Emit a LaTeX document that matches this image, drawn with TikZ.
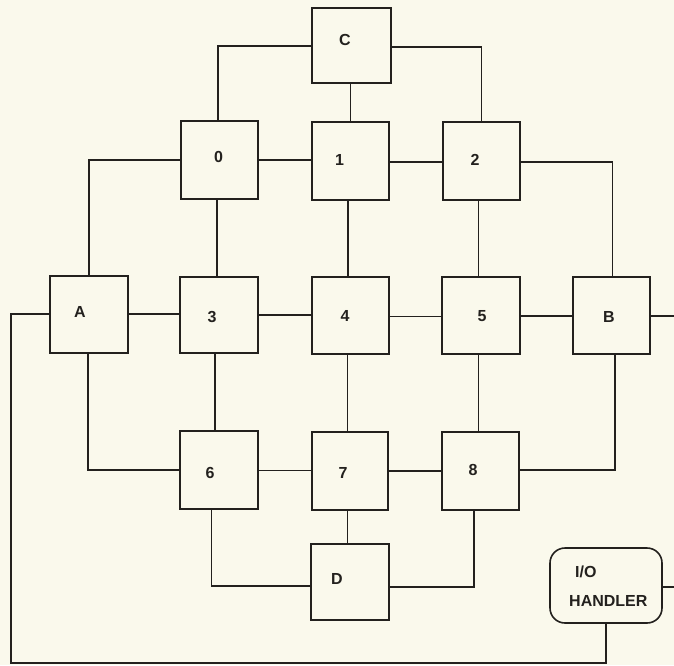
\documentclass[tikz,border=0pt]{standalone}
\usepackage{fontspec}
\setmainfont{Liberation Sans}
\definecolor{paper}{RGB}{250,249,236}
\definecolor{ink}{RGB}{35,33,30}
\begin{document}
\begin{tikzpicture}[x=1pt,y=-1pt,
  box/.style={draw=ink, line width=1.6pt, inner sep=0pt, minimum width=77pt, minimum height=77pt},
  wire/.style={draw=ink, line width=1.2pt},
  lab/.style={font=\bfseries\fontsize{16}{16}\selectfont, text=ink, inner sep=0pt}]
\fill[paper] (0,0) rectangle (674,665);
\useasboundingbox (0,0) rectangle (674,665);

% boxes
\node[box, minimum width=79pt, minimum height=75pt] (C) at (351.5,45.5) {};
\node[box, minimum height=78pt] (n0) at (219.5,160) {};
\node[box, minimum height=78pt] (n1) at (350.5,161) {};
\node[box, minimum height=78pt] (n2) at (481.5,161) {};
\node[box, minimum width=78pt] (A) at (89,314.5) {};
\node[box, minimum width=78pt, minimum height=76pt] (n3) at (219,315) {};
\node[box] (n4) at (350.5,315.5) {};
\node[box, minimum width=78pt] (n5) at (481,315.5) {};
\node[box] (B) at (611.5,315.5) {};
\node[box, minimum width=78pt, minimum height=78pt] (n6) at (219,470) {};
\node[box, minimum width=76pt, minimum height=78pt] (n7) at (350,471) {};
\node[box, minimum height=78pt] (n8) at (480.5,471) {};
\node[box, minimum width=78pt, minimum height=76pt] (D) at (350,582) {};
\node[box, rounded corners=15pt, minimum width=112pt, minimum height=75pt] (IO) at (606,585.5) {};

% labels
\node[lab] (lC) at (345,40) {C};
\node[lab] (l0) at (218.5,157) {0};
\node[lab] (l1) at (339.5,160) {1};
\node[lab] (l2) at (475,160) {2};
\node[lab] (lA) at (80,312) {A};
\node[lab] (l3) at (212,317) {3};
\node[lab] (l4) at (345,316) {4};
\node[lab] (l5) at (482,316) {5};
\node[lab] (lB) at (609,317) {B};
\node[lab] (l6) at (210,473) {6};
\node[lab] (l7) at (343,473) {7};
\node[lab] (l8) at (473,470) {8};
\node[lab] (lD) at (337,579) {D};
\node[lab, anchor=west] (lIO) at (575,572) {I/O};
\node[lab, anchor=west] (lH) at (569,601) {HANDLER};

% free ends
\coordinate (Bout) at (674,316);
\coordinate (IOout) at (674,587);
\coordinate (loopR) at (606,663);
\coordinate (loopL) at (11,663);
\coordinate (loopT) at (11,314);

% connectors
\draw[wire] (C.west |- 0,46) -| (n0.north -| 218,0);
\draw[wire] (C.east |- 0,47) -| (n2.north -| 481.5,0);
\draw[wire] (C.south -| 350.5,0) -- (n1.north -| 350.5,0);
\draw[wire] (n0.west |- 0,160) -| (A.north -| 89,0);
\draw[wire] (n0.east |- 0,160) -- (n1.west |- 0,160);
\draw[wire] (n1.east |- 0,162) -- (n2.west |- 0,162);
\draw[wire] (n2.east |- 0,162) -| (B.north -| 612.5,0);
\draw[wire] (n0.south -| 217,0) -- (n3.north -| 217,0);
\draw[wire] (n1.south -| 348,0) -- (n4.north -| 348,0);
\draw[wire] (n2.south -| 478.5,0) -- (n5.north -| 478.5,0);
\draw[wire] (A.east |- 0,314) -- (n3.west |- 0,314);
\draw[wire] (n3.east |- 0,315) -- (n4.west |- 0,315);
\draw[wire] (n4.east |- 0,316.5) -- (n5.west |- 0,316.5);
\draw[wire] (n5.east |- 0,316) -- (B.west |- 0,316);
\draw[wire] (B.east |- 0,316) -- (Bout);
\draw[wire] (A.south -| 88,0) |- (n6.west |- 0,470);
\draw[wire] (n3.south -| 215,0) -- (n6.north -| 215,0);
\draw[wire] (n4.south -| 347.5,0) -- (n7.north -| 347.5,0);
\draw[wire] (n5.south -| 478.5,0) -- (n8.north -| 478.5,0);
\draw[wire] (B.south -| 615,0) |- (n8.east |- 0,470);
\draw[wire] (n6.east |- 0,470.5) -- (n7.west |- 0,470.5);
\draw[wire] (n7.east |- 0,471) -- (n8.west |- 0,471);
\draw[wire] (n6.south -| 211.5,0) |- (D.west |- 0,586);
\draw[wire] (D.east |- 0,587) -| (n8.south -| 474,0);
\draw[wire] (n7.south -| 347.5,0) -- (D.north -| 347.5,0);
\draw[wire] (IO.east |- 0,587) -- (IOout);
\draw[wire] (IO.south -| 606,0) -- (loopR) -- (loopL) -- (loopT) -- (A.west |- 0,314);
\end{tikzpicture}
\end{document}
